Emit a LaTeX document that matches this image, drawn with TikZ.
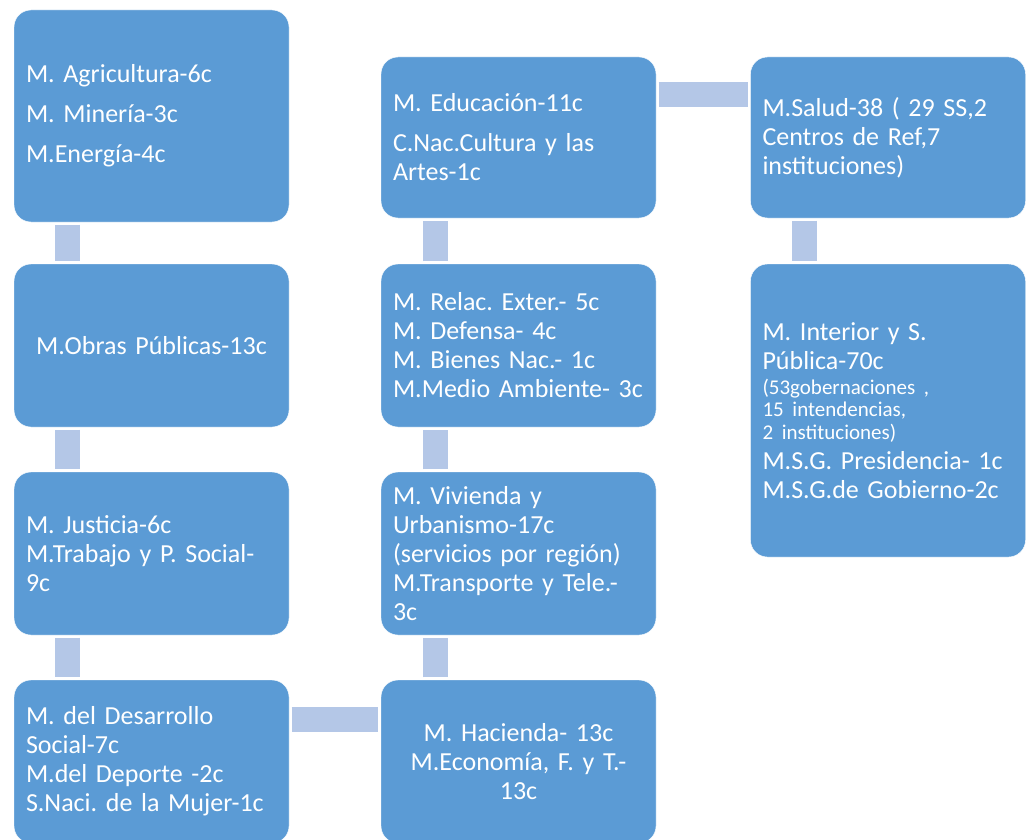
\documentclass[tikz,border=0pt]{standalone}
\usepackage{fontspec}
\setmainfont{Carlito}
\frenchspacing
\definecolor{boxblue}{HTML}{5B9BD5}
\definecolor{linkblue}{HTML}{B4C7E7}
\newcommand{\smalltxt}{\fontsize{21}{23}\selectfont}

\begin{document}
\begin{tikzpicture}[x=1pt,y=-1pt,
  box/.style={draw=white,fill=boxblue,text=white,rounded corners=17pt,
    minimum width=275pt,inner xsep=12pt,text width=251pt,align=left,
    font=\fontsize{26}{29}\selectfont},
  link/.style={draw=linkblue,line width=25pt,shorten <=2.5pt,shorten >=2.5pt}]
\useasboundingbox (0,0) rectangle (1031,840);
% left column
\node[box,minimum height=212pt] (agri) at (151.5,116)
  {M. Agricultura-6c\\[11pt] M. Minería-3c\\[11pt] M.Energía-4c};
\node[box,minimum height=163pt,align=center] (obras) at (151.5,345.5)
  {M.Obras Públicas-13c};
\node[box,minimum height=163pt] (justicia) at (151.5,553.5)
  {M. Justicia-6c\\ M.Trabajo y P. Social-\\ 9c};
\node[box,minimum height=163pt] (social) at (151.5,761.5)
  {M. del Desarrollo\\ Social-7c\\ M.del Deporte -2c\\ S.Naci. de la Mujer-1c};
% middle column
\node[box,minimum height=161pt] (educ) at (518.5,137.5)
  {M. Educación-11c\\[11pt] C.Nac.Cultura y las\\ Artes-1c};
\node[box,minimum height=163pt] (exter) at (518.5,345.5)
  {M. Relac. Exter.- 5c\\ M. Defensa- 4c\\ M. Bienes Nac.- 1c\\ M.Medio Ambiente- 3c};
\node[box,minimum height=163pt] (vivienda) at (518.5,553.5)
  {M. Vivienda y\\ Urbanismo-17c\\ (servicios por región)\\ M.Transporte y Tele.-\\ 3c};
\node[box,minimum height=163pt,align=center] (hacienda) at (518.5,761.5)
  {M. Hacienda- 13c\\ M.Economía, F. y T.-\\ 13c};
% right column
\node[box,minimum height=161pt] (salud) at (888,137.5)
  {M.Salud-38 ( 29 SS,2\\ Centros de Ref,7\\ instituciones)};
\node[box,minimum height=293pt] (interior) at (888,410.5)
  {M. Interior y S.\\ Pública-70c\\[-4pt]
   {\smalltxt (53gobernaciones ,}\\[-7pt]
   {\smalltxt 15 intendencias,}\\[-6pt]
   {\smalltxt 2 instituciones)}\\[1pt]
   M.S.G. Presidencia- 1c\\ M.S.G.de Gobierno-2c};
% links
\draw[link] ([xshift=54pt]agri.south west) -- ([xshift=54pt]obras.north west);
\draw[link] ([xshift=54pt]obras.south west) -- ([xshift=54pt]justicia.north west);
\draw[link] ([xshift=54pt]justicia.south west) -- ([xshift=54pt]social.north west);
\draw[link] ([yshift=-39.5pt]social.north east) -- ([yshift=-39.5pt]hacienda.north west);
\draw[link] ([xshift=55pt]hacienda.north west) -- ([xshift=55pt]vivienda.south west);
\draw[link] ([xshift=55pt]vivienda.north west) -- ([xshift=55pt]exter.south west);
\draw[link] ([xshift=55pt]exter.north west) -- ([xshift=55pt]educ.south west);
\draw[link] ([yshift=-37.5pt]educ.north east) -- ([yshift=-37.5pt]salud.north west);
\draw[link] ([xshift=54.5pt]salud.south west) -- ([xshift=54.5pt]interior.north west);
\end{tikzpicture}
\end{document}
